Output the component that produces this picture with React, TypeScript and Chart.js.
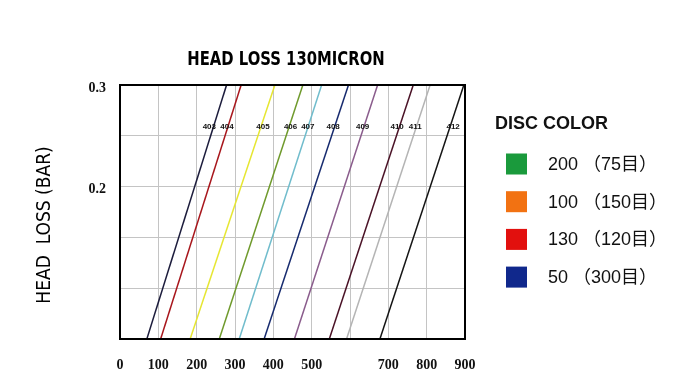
import React, { useEffect, useRef } from "react";
import { Chart, registerables } from "chart.js";

Chart.register(...registerables);

// ---- data ----
const chartTitle = "HEAD LOSS 130MICRON";
const yAxisTitle = "HEAD  LOSS (BAR)";
const lineNames = ["403", "404", "405", "406", "407", "408", "409", "410", "411", "412"];
const bottomFlow = [70, 106, 183, 259, 311, 376, 455, 546, 591, 678];
const topFlow = [278, 316, 404, 477, 526, 596, 672, 765, 809, 897];
const labelFlow = [233, 279, 373, 445, 490, 556, 633, 723, 770, 869];
const lineColors = [
  "#1c1c3c",
  "#a8161c",
  "#e6e632",
  "#6f9a2c",
  "#70bccc",
  "#162a6e",
  "#8a5c8c",
  "#4a1226",
  "#b4b4b4",
  "#141414",
];
const headMin = 0.05;
const headMax = 0.3;
const headStep = 0.05;
const labelHead = 0.259;
const yTickValues = [0.2, 0.3];
const yTickLabels = ["0.2", "0.3"];
const xTickLabels = ["0", "100", "200", "300", "400", "500", "", "700", "800", "900"];
const legendTitle = "DISC COLOR";
const discLabels = ["200 （75目）", "100 （150目）", "130 （120目）", "50 （300目）"];
const discColors = ["#1a9a3c", "#f27212", "#e2100e", "#10288c"];

const overlayPlugin = {
  id: "overlay",
  afterDraw(chart: any) {
    const { ctx, chartArea, scales } = chart;
    const xs = scales.x;
    const ys = scales.y;
    ctx.save();
    // frame
    ctx.strokeStyle = "#000";
    ctx.lineWidth = 2;
    ctx.strokeRect(chartArea.left, chartArea.top, chartArea.right - chartArea.left, chartArea.bottom - chartArea.top);

    // line labels
    ctx.fillStyle = "#111";
    ctx.font = "bold 8px 'Liberation Sans', Arial, sans-serif";
    ctx.textAlign = "center";
    ctx.textBaseline = "middle";
    lineNames.forEach((n, i) => {
      ctx.fillText(n, xs.getPixelForValue(labelFlow[i]), ys.getPixelForValue(labelHead));
    });

    // title
    ctx.save();
    ctx.translate(286, 60);
    ctx.scale(0.97, 1.1);
    ctx.font = "bold 17px 'DejaVu Sans Condensed', 'DejaVu Sans', sans-serif";
    ctx.fillStyle = "#000";
    ctx.fillText(chartTitle, 0, 0);
    ctx.restore();

    // y axis title
    ctx.save();
    ctx.translate(45, 225);
    ctx.rotate(-Math.PI / 2);
    ctx.font = "19px 'DejaVu Sans Condensed', 'DejaVu Sans', sans-serif";
    ctx.fillStyle = "#000";
    ctx.fillText(yAxisTitle, 0, 0);
    ctx.restore();

    // legend
    ctx.textAlign = "left";
    ctx.font = "bold 18px 'Liberation Sans', Arial, sans-serif";
    ctx.fillStyle = "#111";
    ctx.fillText(legendTitle, 495, 124);
    discLabels.forEach((t, i) => {
      const cy = 164 + i * 37.7;
      ctx.fillStyle = discColors[i];
      ctx.fillRect(506, cy - 10.5, 21, 21);
      ctx.fillStyle = "#111";
      ctx.font = "18px 'Liberation Sans', 'Noto Sans CJK SC', sans-serif";
      ctx.fillText(t, 548, cy + 1);
    });
    ctx.restore();
  },
};

export default function App() {
  const ref = useRef<HTMLCanvasElement | null>(null);
  useEffect(() => {
    if (!ref.current) return;
    const chart = new Chart(ref.current, {
      type: "line",
      data: {
        datasets: lineNames.map((n, i) => ({
          label: n,
          data: [
            { x: bottomFlow[i], y: headMin },
            { x: topFlow[i], y: headMax },
          ],
          borderColor: lineColors[i],
          borderWidth: 1.5,
          pointRadius: 0,
          fill: false,
          tension: 0,
        })),
      },
      options: {
        animation: false,
        responsive: false,
        events: [],
        layout: { padding: { left: 0, top: 85, right: 235, bottom: 0 } },
        plugins: { legend: { display: false }, title: { display: false }, tooltip: { enabled: false } },
        scales: {
          x: {
            type: "linear",
            min: 0,
            max: 900,
            afterFit: (s: any) => {
              s.height = 53;
            },
            grid: { color: "#c4c4c4", lineWidth: 1, drawTicks: false },
            border: { display: false },
            ticks: {
              stepSize: 100,
              padding: 18,
              color: "#111",
              font: { family: "'Liberation Serif', 'Times New Roman', serif", size: 14, weight: "bold" },
              callback: (v: any) => {
                const idx = Math.round(Number(v) / 100);
                return xTickLabels[idx] ?? "";
              },
            },
          },
          y: {
            type: "linear",
            min: headMin,
            max: headMax,
            afterFit: (s: any) => {
              s.width = 120;
            },
            grid: { color: "#c4c4c4", lineWidth: 1, drawTicks: false },
            border: { display: false },
            ticks: {
              stepSize: headStep,
              padding: 14,
              labelOffset: 3,
              color: "#111",
              font: { family: "'Liberation Serif', 'Times New Roman', serif", size: 14, weight: "bold" },
              callback: (v: any) => {
                const idx = yTickValues.findIndex((t) => Math.abs(t - Number(v)) < 1e-6);
                return idx >= 0 ? yTickLabels[idx] : "";
              },
            },
          },
        },
      },
      plugins: [overlayPlugin],
    } as any);
    return () => chart.destroy();
  }, []);
  return (
    <div style={{ position: "fixed", left: 0, top: 0, width: 700, height: 392, background: "#fff" }}>
      <canvas ref={ref} width={700} height={392} style={{ display: "block" }} />
    </div>
  );
}
